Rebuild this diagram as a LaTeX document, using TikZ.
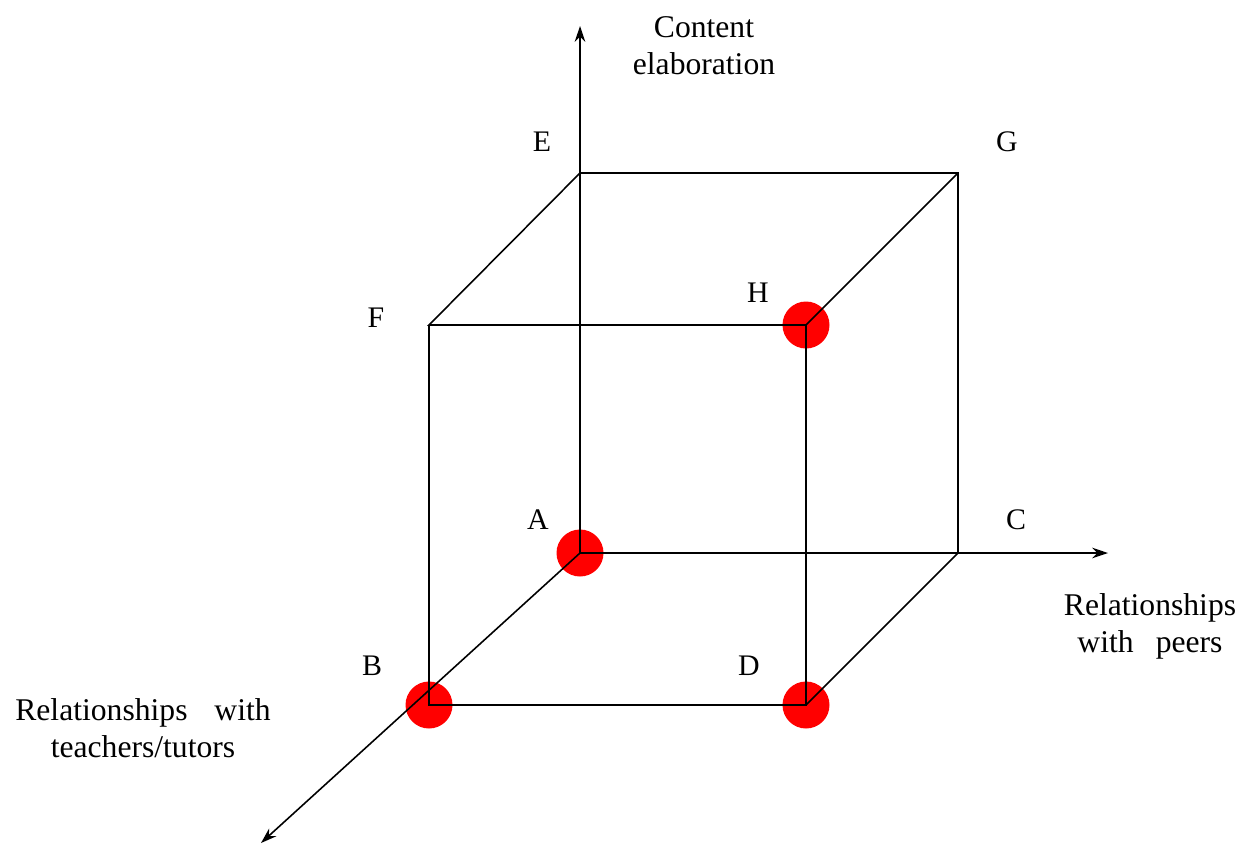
\documentclass[tikz,border=0pt]{standalone}
\usepackage{fontspec}
\setmainfont{Liberation Serif}
\usetikzlibrary{arrows.meta}
\begin{document}
\begin{tikzpicture}[x=0.02cm,y=-0.02cm,
  edge/.style={line width=0.9pt,black},
  axis/.style={line width=0.9pt,black,-{Stealth[length=9pt,width=6pt,inset=3pt]}},
  dot/.style={circle,fill=red,inner sep=0pt,minimum size=0.94cm},
  lbl/.style={font=\fontsize{17}{18}\selectfont,inner sep=0pt},
  axtext/.style={font=\fontsize{18}{21}\selectfont,align=center,inner sep=0pt}]
\useasboundingbox (0,0) rectangle (1240,849);
% corners
\coordinate (A) at (580,553);
\coordinate (C) at (958,553);
\coordinate (E) at (580,173);
\coordinate (G) at (958,173);
\coordinate (F) at (429,325);
\coordinate (H) at (806,325);
\coordinate (B) at (429,705);
\coordinate (D) at (806,705);
\coordinate (Ytip) at (580,26);
\coordinate (Xtip) at (1108,553);
\coordinate (Ztip) at (261,843);
% dots beneath lines
\node[dot] (dA) at (A) {};
\node[dot] (dH) at (H) {};
\node[dot] (dB) at (B) {};
\node[dot] (dD) at (D) {};
% axes
\draw[axis] (A) -- (Ytip);
\draw[axis] (A) -- (Xtip);
\draw[axis] (A) -- (Ztip);
% cube edges
\draw[edge] (E) -- (G) -- (C);
\draw[edge] (E) -- (F) -- (H) -- (G);
\draw[edge] (F) -- (B) -- (D) -- (H);
\draw[edge] (D) -- (C);
% labels
\node[lbl] (lE) at (542,142) {E};
\node[lbl] (lG) at (1007,142) {G};
\node[lbl] (lF) at (376,318) {F};
\node[lbl] (lH) at (758,293) {H};
\node[lbl] (lA) at (538,520) {A};
\node[lbl] (lC) at (1016,520) {C};
\node[lbl] (lB) at (372,666) {B};
\node[lbl] (lD) at (749,666) {D};
\node[axtext] (tY) at (704,46) {Content\\elaboration};
\node[axtext] (tX) at (1150,626) {Relationships\\with\hspace{0.7em}peers};
\node[axtext] (tZ) at (143,728) {Relationships\hspace{0.85em}with\\teachers/tutors};
\end{tikzpicture}
\end{document}
